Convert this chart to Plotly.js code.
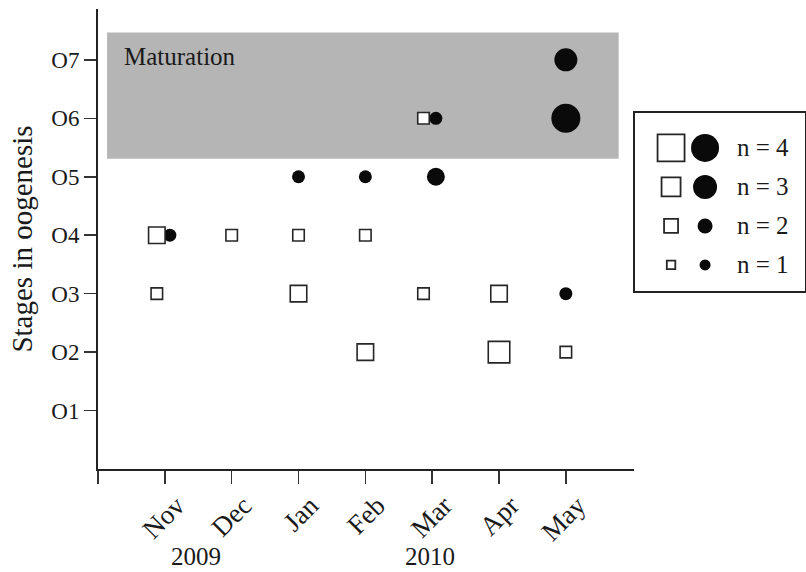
<!DOCTYPE html>
<html>
<head>
<meta charset="utf-8">
<script src="https://cdn.plot.ly/plotly-3.0.1.min.js"></script>
<style>html,body{margin:0;padding:0;background:#fff;}#chart{width:806px;height:572px;}</style>
</head>
<body>
<div id="chart"></div>
<script>
// ---- data ----
const months = ['Nov', 'Dec', 'Jan', 'Feb', 'Mar', 'Apr', 'May'];
const stageLabels = ['O1', 'O2', 'O3', 'O4', 'O5', 'O6', 'O7'];
const years = ['2009', '2010'];

// open squares
const sqMonth = ['Nov', 'Nov', 'Dec', 'Jan', 'Jan', 'Feb', 'Feb', 'Mar', 'Mar', 'Apr', 'Apr', 'May'];
const sqStage = [4, 3, 4, 4, 3, 4, 2, 6, 3, 3, 2, 2];
const sqN     = [2, 1, 1, 1, 2, 1, 2, 1, 1, 2, 3, 1];

// filled circles
const ciMonth = ['Nov', 'Jan', 'Feb', 'Mar', 'Mar', 'May', 'May', 'May'];
const ciStage = [4, 5, 5, 6, 5, 7, 6, 3];
const ciN     = [1, 1, 1, 1, 2, 3, 4, 1];

// legend
const legendN = [4, 3, 2, 1];
const maturationLabel = 'Maturation';
const maturationStages = [5.31, 7.47];
const yTitle = 'Stages in oogenesis';

// ---- styling ----
const FONT = '"Liberation Serif", "Times New Roman", Times, serif';
const INK = '#1a1a1a';
const sqSize = {1: 11.5, 2: 16.5, 3: 21.5, 4: 26};
const ciSize = {1: 13, 2: 18, 3: 23, 4: 29};
const lgSqSize = {1: 8.5, 2: 14, 3: 19, 4: 27};
const lgCiSize = {1: 11, 2: 15, 3: 24, 4: 28};
const sqShift = {Nov: -0.12, Mar: -0.13};
const ciShift = {Nov: 0.075, Mar: 0.055};
const mIdx = m => months.indexOf(m) + 1;

const circles = {
  type: 'scatter', mode: 'markers', xaxis: 'x', yaxis: 'y',
  x: ciMonth.map(m => mIdx(m) + (ciShift[m] || 0)),
  y: ciStage,
  marker: {symbol: 'circle', color: '#0a0a0a', opacity: 1, size: ciN.map(n => ciSize[n]), line: {width: 0}},
  hoverinfo: 'skip', showlegend: false
};
const squares = {
  type: 'scatter', mode: 'markers', xaxis: 'x', yaxis: 'y',
  x: sqMonth.map(m => mIdx(m) + (sqShift[m] || 0)),
  y: sqStage,
  marker: {symbol: 'square', color: '#ffffff', opacity: 1, size: sqN.map(n => sqSize[n]), line: {width: 1.6, color: '#262626'}},
  hoverinfo: 'skip', showlegend: false
};
const lgSquares = {
  type: 'scatter', mode: 'markers', xaxis: 'x2', yaxis: 'y2',
  x: legendN.map(() => 0.212), y: legendN,
  marker: {symbol: 'square', color: '#ffffff', opacity: 1, size: legendN.map(n => lgSqSize[n]), line: {width: 1.8, color: '#262626'}},
  hoverinfo: 'skip', showlegend: false
};
const lgCircles = {
  type: 'scatter', mode: 'markers', xaxis: 'x2', yaxis: 'y2',
  x: legendN.map(() => 0.412), y: legendN,
  marker: {symbol: 'circle', color: '#0a0a0a', opacity: 1, size: legendN.map(n => lgCiSize[n]), line: {width: 0}},
  hoverinfo: 'skip', showlegend: false
};

const annotations = [
  {xref: 'x', yref: 'y', x: 0.365, y: 7.05, xanchor: 'left', yanchor: 'middle', showarrow: false,
   text: maturationLabel, font: {family: FONT, size: 25, color: INK}},
  {xref: 'x', yref: 'paper', x: 1.46, y: -0.19, xanchor: 'center', yanchor: 'middle', showarrow: false,
   text: years[0], font: {family: FONT, size: 25, color: INK}},
  {xref: 'x', yref: 'paper', x: 4.97, y: -0.19, xanchor: 'center', yanchor: 'middle', showarrow: false,
   text: years[1], font: {family: FONT, size: 25, color: INK}}
].concat(legendN.map(n => ({
  xref: 'x2', yref: 'y2', x: 0.59, y: n, xanchor: 'left', yanchor: 'middle', showarrow: false,
  text: 'n = ' + n, font: {family: FONT, size: 25, color: INK}
})));

const layout = {
  width: 806, height: 572,
  margin: {l: 98, r: 0, t: 9, b: 103, pad: 0},
  paper_bgcolor: '#ffffff', plot_bgcolor: 'rgba(0,0,0,0)',
  showlegend: false,
  font: {family: FONT, color: INK},
  xaxis: {
    domain: [0, 0.7571], range: [0, 8.02], fixedrange: true,
    tickmode: 'array', tickvals: [0].concat(months.map((m, i) => i + 1)),
    ticktext: [''].concat(months),
    tickangle: -45, ticks: 'outside', ticklen: 13, tickwidth: 1.5, tickcolor: '#333',
    ticklabelshift: 12, ticklabelstandoff: -5,
    tickfont: {family: FONT, size: 27, color: INK},
    showline: true, linewidth: 2, linecolor: '#222', showgrid: false, zeroline: false
  },
  yaxis: {
    domain: [0, 1], range: [0, 7.87], fixedrange: true,
    tickmode: 'array', tickvals: stageLabels.map((s, i) => i + 1), ticktext: stageLabels,
    ticks: 'outside', ticklen: 12, tickwidth: 1.5, tickcolor: '#333',
    tickfont: {family: FONT, size: 23, color: INK},
    showline: true, linewidth: 2, linecolor: '#222', showgrid: false, zeroline: false,
    title: {text: yTitle, font: {family: FONT, size: 29, color: INK}, standoff: 10}
  },
  xaxis2: {
    domain: [0.7585, 0.9986], range: [0, 1], anchor: 'y2', fixedrange: true,
    showline: true, mirror: true, linewidth: 2, linecolor: '#222',
    showgrid: false, zeroline: false, showticklabels: false, ticks: ''
  },
  yaxis2: {
    domain: [0.387, 0.7746], range: [0.333, 4.905], anchor: 'x2', fixedrange: true,
    showline: true, mirror: true, linewidth: 2, linecolor: '#222',
    showgrid: false, zeroline: false, showticklabels: false, ticks: ''
  },
  shapes: [
    {type: 'rect', xref: 'x', yref: 'y', x0: 0.136, x1: 7.79, y0: maturationStages[0], y1: maturationStages[1],
     fillcolor: '#b5b5b5', line: {width: 0}, layer: 'below'}
  ],
  annotations: annotations
};

Plotly.newPlot('chart', [circles, squares, lgSquares, lgCircles], layout, {displayModeBar: false, staticPlot: true});
</script>
</body>
</html>
